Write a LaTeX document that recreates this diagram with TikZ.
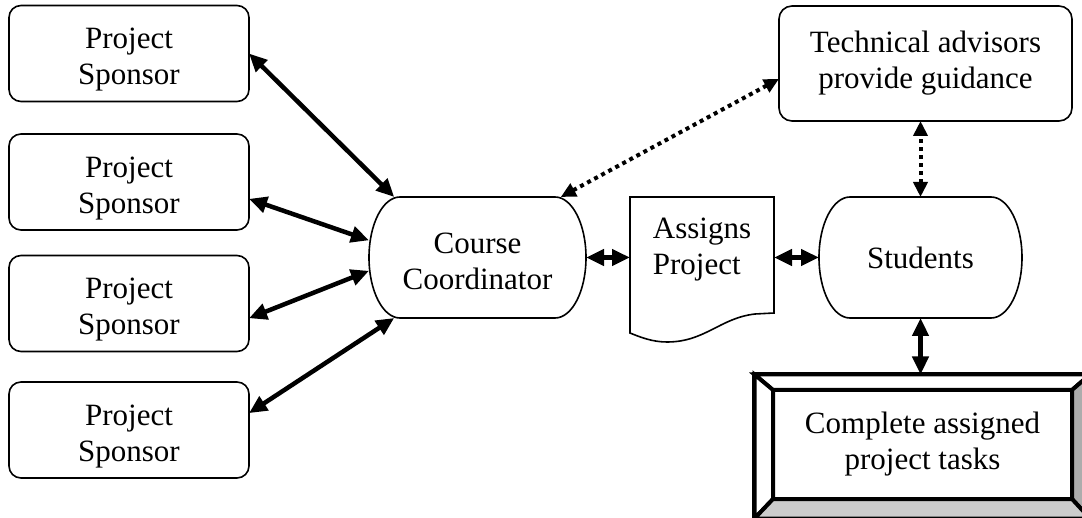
\documentclass[tikz,border=0pt]{standalone}
\usepackage{fontspec}
\setmainfont{Liberation Serif}
\usetikzlibrary{arrows.meta}

\newcommand{\padtop}[1]{\rule{0pt}{#1}}

\begin{document}
\begin{tikzpicture}[x=1pt,y=-1pt,
	every node/.style={font=\fontsize{31}{36}\selectfont, outer sep=0pt},
	box/.style={draw, line width=1.6pt, rounded corners=12pt, align=center},
	sponsor/.style={box, minimum width=240pt, minimum height=96pt},
	terminal/.style={minimum height=121pt, align=center},
	link/.style={line width=4.5pt, {Triangle[length=18pt,width=16pt]}-{Triangle[length=18pt,width=16pt]}},
	dotlink/.style={line width=4pt, dash pattern=on 4pt off 4pt, {Triangle[length=15pt,width=14pt]}-{Triangle[length=15pt,width=14pt]}}]
	\useasboundingbox (0,0) rectangle (1082,518);
	
	\foreach \i/\y in {1/53.5,2/182,3/303.5,4/430}{
		\node[sponsor] (s\i) at (129,\y) {\padtop{33pt}Project\\Sponsor};
	}
	
	\node[terminal, minimum width=217pt] (cc) at (477.5,257.5) {\padtop{28pt}Course\\Coordinator};
	\node[terminal, minimum width=203pt] (st) at (920.5,257.5) {Students};
	\foreach \n in {cc,st}{
		\draw[line width=1.6pt] ([xshift=31pt]\n.north west) -- ([xshift=-31pt]\n.north east) arc[start angle=90, end angle=-90, x radius=31pt, y radius=60.5pt] -- ([xshift=31pt]\n.south west) arc[start angle=270, end angle=90, x radius=31pt, y radius=60.5pt] -- cycle;
	}
	\node[box, rounded corners=13pt, minimum width=293pt, minimum height=115pt] (tech) at (925.5,63.5) {Technical advisors\\provide guidance};
	
	% document shape
	\node[minimum width=144pt, minimum height=145pt] (doc) at (702,269.5) {};
	\draw[line width=1.6pt] (doc.north west) -- (doc.north east) -- (774,313) -- (755,314) .. controls (720,318) and (705,342) .. (667,342) .. controls (652,342) and (640,337) .. (630,333) -- cycle;
	\node[align=left] (doclabel) at (702,250) {Assigns\\Project};
	
	% bevel box
	\node[draw, line width=5pt, minimum width=335.5pt, minimum height=144pt] (frame) at (922.25,446.5) {};
	\node[draw, line width=4pt, fill=white, minimum width=299pt, minimum height=109pt, align=center] (comp) at (922.5,444.5) {Complete assigned\\project tasks};
	\filldraw[line width=4pt, fill=white] (frame.north west) -- (frame.north east) -- (comp.north east) -- (comp.north west) -- cycle;
	\filldraw[line width=4pt, fill=white] (frame.north west) -- (comp.north west) -- (comp.south west) -- (frame.south west) -- cycle;
	\filldraw[line width=4pt, fill=gray!65] (frame.north east) -- (frame.south east) -- (comp.south east) -- (comp.north east) -- cycle;
	\filldraw[line width=4pt, fill=gray!40] (frame.south west) -- (comp.south west) -- (comp.south east) -- (frame.south east) -- cycle;
	
	\draw[link] (s1.east) -- (cc.144);
	\draw[link] (s2.-8) -- (cc.171);
	\draw[link] (s3.-7) -- (cc.187);
	\draw[link] (s4.8) -- (cc.216);
	\draw[link] (cc.east) -- (cc.east -| doc.west);
	\draw[link] (doc.east |- st.west) -- (st.west);
	\draw[link] (st.south) -- (st.south |- frame.north);
	\draw[dotlink] (cc.36) -- (tech.186);
	\draw[dotlink] (st.north) -- (st.north |- tech.south);
\end{tikzpicture}
\end{document}
